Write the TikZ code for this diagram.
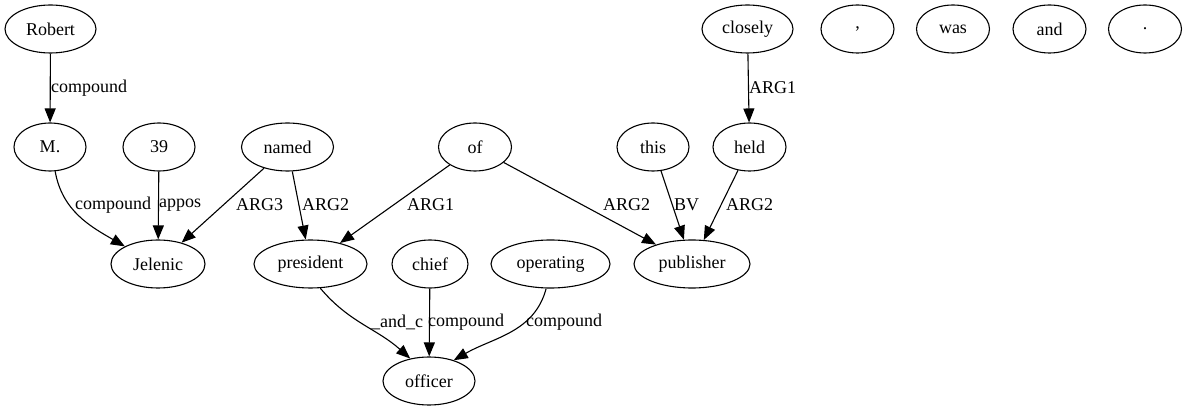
\documentclass[tikz,border=0pt]{standalone}
\usepackage{fontspec}
\setmainfont{Liberation Serif}
\newfontfamily\lserif{Liberation Serif}
\usetikzlibrary{shapes.geometric,arrows.meta}
\begin{document}
\begin{tikzpicture}[x=1pt,y=-1pt,
  every node/.style={font=\lserif\fontsize{18}{20}\selectfont},
  nd/.style={draw,ellipse,line width=1.1pt,inner sep=0pt,minimum height=48pt},
  lbl/.style={inner sep=0pt,anchor=west},
  edge/.style={line width=1.1pt,-{Triangle[length=14pt,width=11pt]}},
]
\useasboundingbox (0,0) rectangle (1187,411);
% row 1
\node[nd,minimum width=91pt] (robert) at (50.5,29) {Robert};
\node[nd,minimum width=91pt] (closely) at (747.5,29) {closely};
\node[nd,minimum width=73pt] (comma) at (857.5,29) {,};
\node[nd,minimum width=73pt] (was) at (953,29) {was};
\node[nd,minimum width=73pt] (and) at (1049.5,29) {and};
\node[nd,minimum width=73pt] (dot) at (1145,29) {.};
% row 2
\node[nd,minimum width=72pt] (m) at (50,147) {M.};
\node[nd,minimum width=72pt] (n39) at (159,147) {39};
\node[nd,minimum width=92pt] (named) at (287.5,147) {named};
\node[nd,minimum width=73pt] (of) at (475,147) {of};
\node[nd,minimum width=72pt] (this) at (653,147) {this};
\node[nd,minimum width=73pt] (held) at (749.5,147) {held};
% row 3
\node[nd,minimum width=94pt] (jelenic) at (158,264) {Jelenic};
\node[nd,minimum width=113pt] (president) at (310.5,264) {president};
\node[nd,minimum width=76pt] (chief) at (430,264) {chief};
\node[nd,minimum width=119pt] (operating) at (550.5,264) {operating};
\node[nd,minimum width=116pt] (publisher) at (692,264) {publisher};
% row 4
\node[nd,minimum width=92pt] (officer) at (429,381) {officer};
% edges
\draw[edge] (robert) -- (m);
\draw[edge] (closely) -- (held);
\draw[edge] (m.-78) to[out=-80,in=150] (jelenic.152);
\draw[edge] (n39) -- (jelenic);
\draw[edge] (named) -- (jelenic);
\draw[edge] (named) -- (president);
\draw[edge] (of) -- (president);
\draw[edge] (of) -- (publisher);
\draw[edge] (this) -- (publisher);
\draw[edge] (held) -- (publisher);
\draw[edge] (president.-68) to[out=-50,in=138] (officer.130);
\draw[edge] (chief) -- (officer);
\draw[edge] (operating.-100) to[out=-105,in=30] (officer.40);
% labels
\node[lbl] at (51,88) {compound};
\node[lbl] at (749,88) {ARG1};
\node[lbl] at (75,205) {compound};
\node[lbl] at (159,205) {appos};
\node[lbl] at (236,205) {ARG3};
\node[lbl] at (302,205) {ARG2};
\node[lbl] at (407,205) {ARG1};
\node[lbl] at (603,205) {ARG2};
\node[lbl] at (674,205) {BV};
\node[lbl] at (726,205) {ARG2};
\node[lbl] at (371,322) {\_and\_c};
\node[lbl] at (428,322) {compound};
\node[lbl] at (526,322) {compound};
\end{tikzpicture}
\end{document}
